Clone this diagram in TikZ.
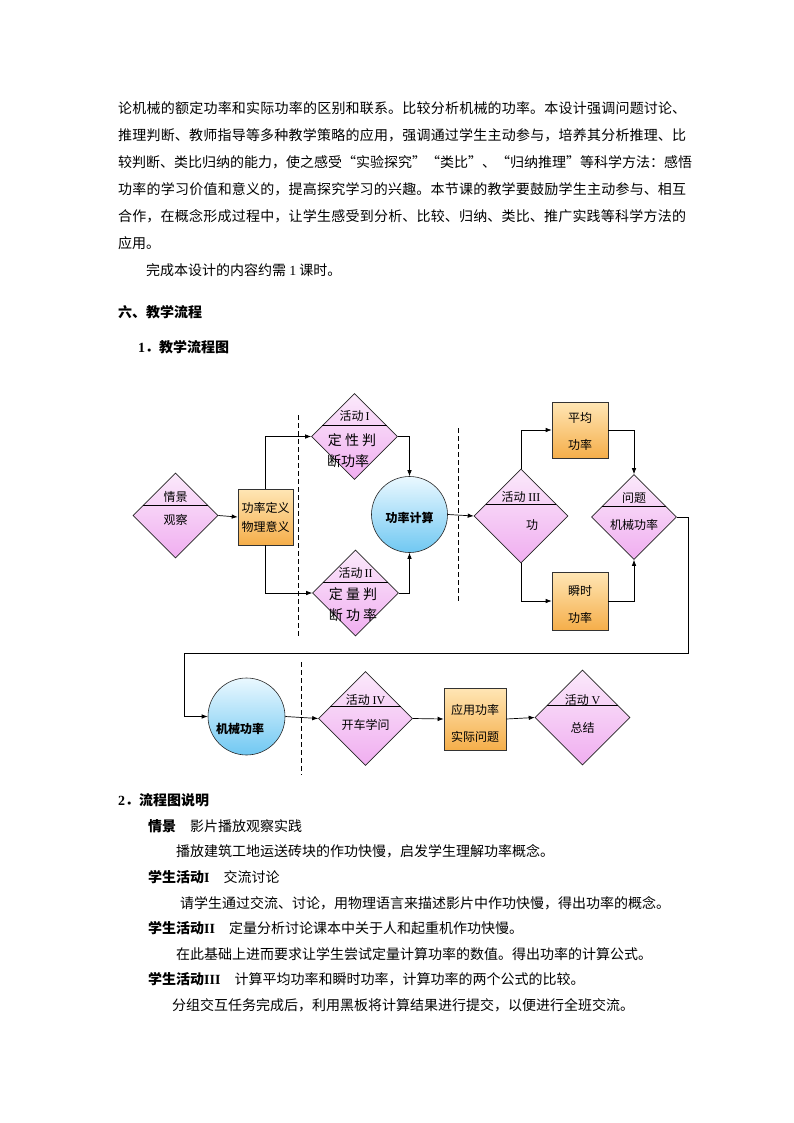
\documentclass[tikz,border=0pt]{standalone}
\usepackage{fontspec}
\setmainfont{Noto Sans CJK SC}
\newfontfamily\lat{Liberation Serif}
\usetikzlibrary{calc,shapes.geometric,arrows.meta}
\XeTeXlinebreaklocale "zh"
\XeTeXlinebreakskip=0pt plus 1pt
\definecolor{pinkA}{HTML}{FBE9FB}
\definecolor{pinkB}{HTML}{F0AEF0}
\definecolor{orangeA}{HTML}{FFE6B5}
\definecolor{orangeB}{HTML}{F5AE4A}
\definecolor{blueA}{HTML}{EAF8FF}
\definecolor{blueB}{HTML}{70C8F2}
\newcommand{\hdsplit}[1]{%
  \draw[line width=0.6pt] ($(#1.north)!0.75!(#1.west)$) -- ($(#1.north)!0.75!(#1.east)$);
}
\newcommand{\fullline}[1]{\parbox{568pt}{\parindent=0pt\parfillskip=0pt\relax #1}}
\tikzset{
  para/.style={anchor=west, inner sep=0pt, font=\fontsize{14}{16}\selectfont},
  head/.style={para, font=\fontsize{14}{16}\selectfont\bfseries},
  hdiam/.style={diamond, draw=black!85, line width=0.6pt, top color=pinkA, bottom color=pinkB, inner sep=0pt, minimum size=#1},
  obox/.style 2 args={rectangle, draw=black!80, line width=0.6pt, top color=orangeA, bottom color=orangeB, inner sep=0pt, minimum width=#1, minimum height=#2},
  bcirc/.style={circle, draw=black!85, line width=0.6pt, top color=blueA, bottom color=blueB, inner sep=0pt, minimum size=#1},
  intxt/.style={inner sep=0pt, font=\fontsize{12}{12}\selectfont},
  bigtxt/.style={inner sep=0pt, font=\fontsize{14}{14}\selectfont},
  arr/.style={-{Latex[length=6pt,width=4.5pt]}, line width=0.7pt},
  vsplit/.style={dash pattern=on 5pt off 3pt, line width=0.7pt},
}
\begin{document}
\begin{tikzpicture}[x=1pt, y=-1pt]
  \fill[white] (0,0) rectangle (794,1123);
  \useasboundingbox (0,0) rectangle (794,1123);

  % text above the chart
  \node[para] (p1) at (118,108) {\fullline{论机械的额定功率和实际功率的区别和联系。比较分析机械的功率。本设计强调问题讨论、}};
  \node[para] (p2) at (118,135) {\fullline{推理判断、教师指导等多种教学策略的应用，强调通过学生主动参与，培养其分析推理、比}};
  \node[para] (p3) at (118,162) {较判断、类比归纳的能力，使之感受“实验探究”“类比”、“归纳推理”等科学方法：感悟};
  \node[para] (p4) at (118,189) {\fullline{功率的学习价值和意义的，提高探究学习的兴趣。本节课的教学要鼓励学生主动参与、相互}};
  \node[para] (p5) at (118,216) {\fullline{合作，在概念形成过程中，让学生感受到分析、比较、归纳、类比、推广实践等科学方法的}};
  \node[para] (p6) at (118,243) {应用。};
  \node[para] (p7) at (146,270) {完成本设计的内容约需 {\lat 1} 课时。};
  \node[head] (h6) at (118,312) {六、教学流程};
  \node[head] (h61) at (138,347) {{\lat 1}．教学流程图};

  % separators
  \draw[vsplit] (298,415) -- (298,636);
  \draw[vsplit] (458,428) -- (458,603);
  \draw[vsplit] (301,662) -- (301,775);

  % row one
  \node[hdiam=85] (qj) at (175.5,515.5) {};
  \node[obox={55}{56}] (gl) at (265.5,517) {};
  \node[hdiam=86] (hd1) at (354.5,436.5) {};
  \node[hdiam=86] (hd2) at (355.5,593) {};
  \node[bcirc=76] (js) at (409.5,514.5) {};
  \node[hdiam=94] (hd3) at (521,516) {};
  \node[obox={56}{56}] (pj) at (580,430) {};
  \node[obox={56}{58}] (ss) at (580,601) {};
  \node[hdiam=85] (wt) at (634,517) {};
  \hdsplit{qj}
  \hdsplit{hd1}
  \hdsplit{hd2}
  \hdsplit{hd3}
  \hdsplit{wt}

  % row two
  \node[bcirc=77] (jx) at (246.5,716.5) {};
  \node[hdiam=94] (hd4) at (365.5,718.5) {};
  \node[obox={62}{62}] (yy) at (475,719) {};
  \node[hdiam=95] (hd5) at (582.5,717.5) {};
  \hdsplit{hd4}
  \hdsplit{hd5}

  % texts in the shapes
  \node[intxt] (qj-a) at (175.5,497) {情景};
  \node[intxt] (qj-b) at (175.5,520) {观察};
  \node[intxt] (gl-a) at (265.5,508) {功率定义};
  \node[intxt] (gl-b) at (265.5,527) {物理意义};
  \node[intxt] (hd1-a) at (354.5,416) {活动\,{\lat I}};
  \node[bigtxt] (hd1-b) at (352,440) {定\ 性\ 判};
  \node[bigtxt] (hd1-c) at (348,461) {断功率};
  \node[intxt] (hd2-a) at (355.5,573) {活动\,{\lat II}};
  \node[bigtxt] (hd2-b) at (353,594) {定\ 量\ 判};
  \node[bigtxt] (hd2-c) at (353,615) {断\ 功\ 率};
  \node[intxt, font=\fontsize{12}{12}\selectfont\bfseries] (js-a) at (409.5,518) {功率计算};
  \node[intxt] (hd3-a) at (521,497) {活动\ {\lat III}};
  \node[intxt] (hd3-b) at (532,525) {功};
  \node[intxt] (pj-a) at (580,418) {平均};
  \node[intxt] (pj-b) at (580,445) {功率};
  \node[intxt] (ss-a) at (580,591) {瞬时};
  \node[intxt] (ss-b) at (580,618) {功率};
  \node[intxt] (wt-a) at (634,498) {问题};
  \node[intxt] (wt-b) at (634,525) {机械功率};
  \node[intxt, font=\fontsize{12}{12}\selectfont\bfseries] (jx-a) at (240,729) {机械功率};
  \node[intxt] (hd4-a) at (365.5,700) {活动\ {\lat IV}};
  \node[intxt] (hd4-b) at (365.5,725) {开车学问};
  \node[intxt] (yy-a) at (475,710) {应用功率};
  \node[intxt] (yy-b) at (475,737) {实际问题};
  \node[intxt] (hd5-a) at (582.5,700) {活动\ {\lat V}};
  \node[intxt] (hd5-b) at (582.5,728) {总结};

  % connectors
  \draw[arr] (qj.east) -- (gl.west);
  \draw[arr] (gl.north) |- (hd1.west);
  \draw[arr] (gl.south) |- (hd2.west);
  \draw[arr] (hd1.east) -| (js.north);
  \draw[arr] (hd2.east) -| (js.south);
  \draw[arr] (js.east) -- (hd3.west);
  \draw[arr] (hd3.north) |- (pj.west);
  \draw[arr] (hd3.south) |- (ss.west);
  \draw[arr] (pj.east) -| (wt.north);
  \draw[arr] (ss.east) -| (wt.south);
  \coordinate (bendR) at (688,653);
  \coordinate (bendL) at (184,653);
  \draw[arr] (wt.east) -| (bendR) -- (bendL) |- (jx.west);
  \draw[arr] (jx.east) -- (hd4.west);
  \draw[arr] (hd4.east) -- (yy.west);
  \draw[arr] (yy.east) -- (hd5.west);

  % text below the chart
  \node[head] (h62) at (118,800) {{\lat 2}．流程图说明};
  \node[para] (s1) at (148,826) {\textbf{情景}\quad 影片播放观察实践};
  \node[para] (s1b) at (176,851) {播放建筑工地运送砖块的作功快慢，启发学生理解功率概念。};
  \node[para] (s2) at (148,877) {\textbf{学生活动{\lat I}}\quad 交流讨论};
  \node[para] (s2b) at (180,903) {请学生通过交流、讨论，用物理语言来描述影片中作功快慢，得出功率的概念。};
  \node[para] (s3) at (148,928) {\textbf{学生活动{\lat II}}\quad 定量分析讨论课本中关于人和起重机作功快慢。};
  \node[para] (s3b) at (176,954) {在此基础上进而要求让学生尝试定量计算功率的数值。得出功率的计算公式。};
  \node[para] (s4) at (148,979) {\textbf{学生活动{\lat III}}\quad 计算平均功率和瞬时功率，计算功率的两个公式的比较。};
  \node[para] (s4b) at (172,1005) {分组交互任务完成后，利用黑板将计算结果进行提交，以便进行全班交流。};
\end{tikzpicture}
\end{document}
